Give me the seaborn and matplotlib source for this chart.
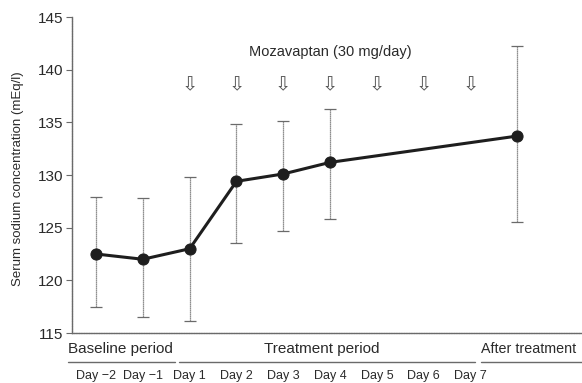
import numpy as np
import pandas as pd
import matplotlib
matplotlib.use('Agg')
import matplotlib.pyplot as plt
import matplotlib.transforms as mtransforms
from matplotlib.lines import Line2D
import seaborn as sns

# categories along the x axis (the after-treatment point has no day label)
categories = ['Day \u22122', 'Day \u22121', 'Day 1', 'Day 2', 'Day 3', 'Day 4',
              'Day 5', 'Day 6', 'Day 7', 'After']
day_labels = categories[:-1]

# measured points: mean with error bar ends
measured = ['Day \u22122', 'Day \u22121', 'Day 1', 'Day 2', 'Day 3', 'Day 4', 'After']
sodium_mean = [122.5, 122.0, 123.0, 129.4, 130.1, 131.2, 133.7]
sodium_upper = [127.9, 127.8, 129.8, 134.8, 135.1, 136.3, 142.2]
sodium_lower = [117.5, 116.5, 116.1, 123.5, 124.7, 125.8, 125.5]

# days with a dose of mozavaptan
dose_days = ['Day 1', 'Day 2', 'Day 3', 'Day 4', 'Day 5', 'Day 6', 'Day 7']

y_ticks = [115, 120, 125, 130, 135, 140, 145]

sns.set_style('white')
plt.rcParams['font.family'] = ['Liberation Sans', 'DejaVu Sans']

pos = {c: i for i, c in enumerate(categories)}
df = pd.DataFrame({
    'x': [pos[c] for c in measured],
    'mean': sodium_mean,
    'upper': sodium_upper,
    'lower': sodium_lower,
})

fig = plt.figure(figsize=(5.82, 3.83), dpi=100)
ax = fig.add_axes([72 / 582, 50 / 383, 510 / 582, 316 / 383])

text_col = '#2a2a2a'
grey = '#6a6a6a'

# error bars
ax.errorbar(df['x'], df['mean'],
            yerr=[df['mean'] - df['lower'], df['upper'] - df['mean']],
            fmt='none', ecolor=grey, elinewidth=0.9, capsize=4, capthick=0.9,
            zorder=1)
ebars = ax.containers[-1]
for coll in ebars.lines[2]:
    coll.set_linestyle((0, (1, 0.6)))

sns.lineplot(data=df, x='x', y='mean', ax=ax, color='#1e1e1e', linewidth=2.2,
             marker='o', markersize=8, markeredgecolor='#1e1e1e', zorder=3)

ax.set_xlim(-0.513, 10.38)
ax.set_ylim(115, 145)
ax.set_yticks(y_ticks)
ax.set_xticks(range(len(day_labels)))
ax.set_xticklabels(day_labels, fontsize=9, color=text_col)
ax.tick_params(axis='x', length=0, pad=27)
ax.tick_params(axis='y', length=4, width=0.8, color=grey, direction='out',
               labelsize=11, labelcolor=text_col, pad=2, left=True)

for s in ['top', 'right']:
    ax.spines[s].set_visible(False)
for s in ['left', 'bottom']:
    ax.spines[s].set_color(grey)
    ax.spines[s].set_linewidth(1.0)
    ax.spines[s].set_linestyle((0, (1, 0.8)))

ax.set_xlabel('')
ax.set_ylabel('Serum sodium concentration (mEq/l)', fontsize=9.5, color=text_col)
ax.yaxis.set_label_coords(-0.095, 0.487)

# dosing arrows and drug label
for d in dose_days:
    ax.text(pos[d], 138.6, '\u21e9', family='DejaVu Sans', fontsize=14,
            color='#555555', ha='center', va='center')
ax.text(5.0, 141.7, 'Mozavaptan (30 mg/day)', fontsize=10.5, color=text_col,
        ha='center', va='center')

# period labels below the axis
trans = mtransforms.blended_transform_factory(ax.transData, fig.transFigure)
periods = [
    ('Baseline period', -0.6, 1.68, -0.6, 'left', 11),
    ('Treatment period', 1.78, 8.1, 4.83, 'center', 11),
    ('After treatment', 8.22, 10.4, 8.22, 'left', 10.3),
]
for name, x0, x1, xt, ha, fs in periods:
    ax.text(xt, 1 - 349 / 383, name, transform=trans, fontsize=fs,
            color=text_col, ha=ha, va='center', clip_on=False)
    ax.add_line(Line2D([x0, x1], [1 - 362 / 383] * 2, transform=trans,
                       color=grey, linewidth=1.0, clip_on=False))

fig.savefig('out.png', dpi=100)
